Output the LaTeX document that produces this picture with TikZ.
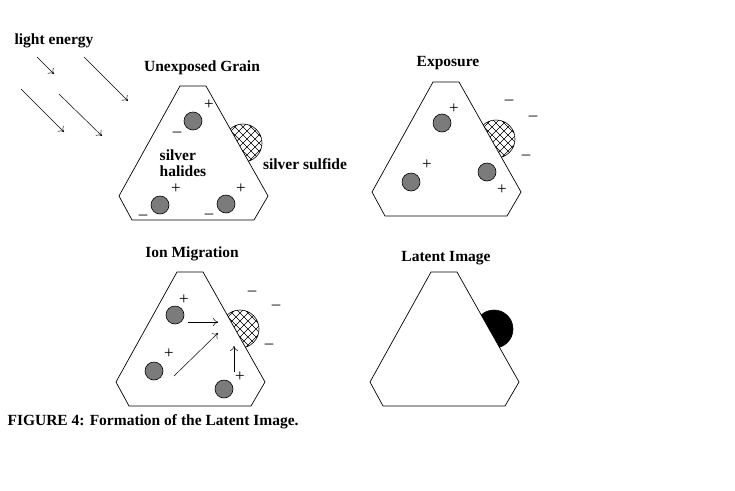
\documentclass[tikz,border=0pt]{standalone}
\usepackage{fontspec}
\setmainfont{Liberation Serif}
\usetikzlibrary{arrows.meta}
\tikzset{
  lbl/.style={font=\bfseries\fontsize{15.5}{16.5}\selectfont},
  sgn/.style={font=\fontsize{17}{17}\selectfont, inner sep=0pt},
  halide/.style={draw, fill=gray!85!black!90, line width=0.6pt},
  ray/.style={-{To[length=5pt,width=8pt]}, line width=0.5pt}
}
% grain outline with hatched or solid speck, shifted by (#1,#2)
\newcommand{\grain}[3]{
  \begin{scope}[shift={(#1,#2)}]
    \begin{scope}
      \clip (206,86) -- (268,196) -- (300,196) -- (300,80) -- cycle;
      \ifnum#3=1
        \fill (243,143) circle (19);
      \else
        \begin{scope}
          \clip (243,143) circle (19);
          \foreach \d in {-40,-32,...,40}{
            \draw[line width=0.5pt] (243+\d-30,113) -- (243+\d+30,173);
            \draw[line width=0.5pt] (243+\d+30,113) -- (243+\d-30,173);
          }
        \end{scope}
      \fi
      \draw[line width=0.6pt] (243,143) circle (19);
    \end{scope}
    \draw[line width=0.7pt] (180,86) -- (206,86) -- (268,196) -- (254,220)
      -- (132,220) -- (119,196) -- cycle;
  \end{scope}
}

\begin{document}
\begin{tikzpicture}[x=1pt,y=-1pt]
\useasboundingbox (0,0) rectangle (735,490);

% unexposed grain
\grain{0}{0}{0}
\node[lbl] at (54,41) {light energy};
\draw[ray] (37,57) -- (54,74);
\draw[ray] (84,57) -- (128,101);
\draw[ray] (21,89) -- (64,132);
\draw[ray] (59,94) -- (102,136);
\node[lbl] at (202,68) {Unexposed Grain};
\draw[halide] (193,121) circle (9);
\draw[halide] (160,205) circle (9);
\draw[halide] (226,204) circle (9);
\node[sgn] at (209,105) {+};
\node[sgn] at (177,134) {–};
\node[sgn] at (176,189) {+};
\node[sgn] at (143,217) {–};
\node[sgn] at (241,189) {+};
\node[sgn] at (209,216) {–};
\node[lbl, align=left] at (183,163) {silver\\halides};
\node[lbl] at (305,164) {silver sulfide};

% exposure
\grain{253}{-4}{0}
\node[lbl] at (448,63) {Exposure};
\draw[halide] (442,123) circle (9);
\draw[halide] (411,182) circle (9);
\draw[halide] (487,172) circle (9);
\node[sgn] at (454,109) {+};
\node[sgn] at (427,165) {+};
\node[sgn] at (502,190) {+};
\node[sgn] at (509,102) {–};
\node[sgn] at (533,118) {–};
\node[sgn] at (526,157) {–};

% ion migration
\grain{-3}{186}{0}
\node[lbl] at (192,254) {Ion Migration};
\draw[halide] (175,315) circle (9);
\draw[halide] (154,371) circle (9);
\draw[halide] (224,389) circle (9);
\node[sgn] at (184,300) {+};
\node[sgn] at (169,354) {+};
\node[sgn] at (240,377) {+};
\node[sgn] at (252,293) {–};
\node[sgn] at (276,307) {–};
\node[sgn] at (269,346) {–};
\draw[ray] (188,322) -- (218,322);
\draw[ray] (174,376) -- (218,333);
\draw[ray] (234,372) -- (234,346);

% latent image
\grain{251}{186}{1}
\node[lbl] at (446,258) {Latent Image};

\node[lbl, anchor=west] at (4,422) {FIGURE 4: Formation of the Latent Image.};
\end{tikzpicture}
\end{document}
